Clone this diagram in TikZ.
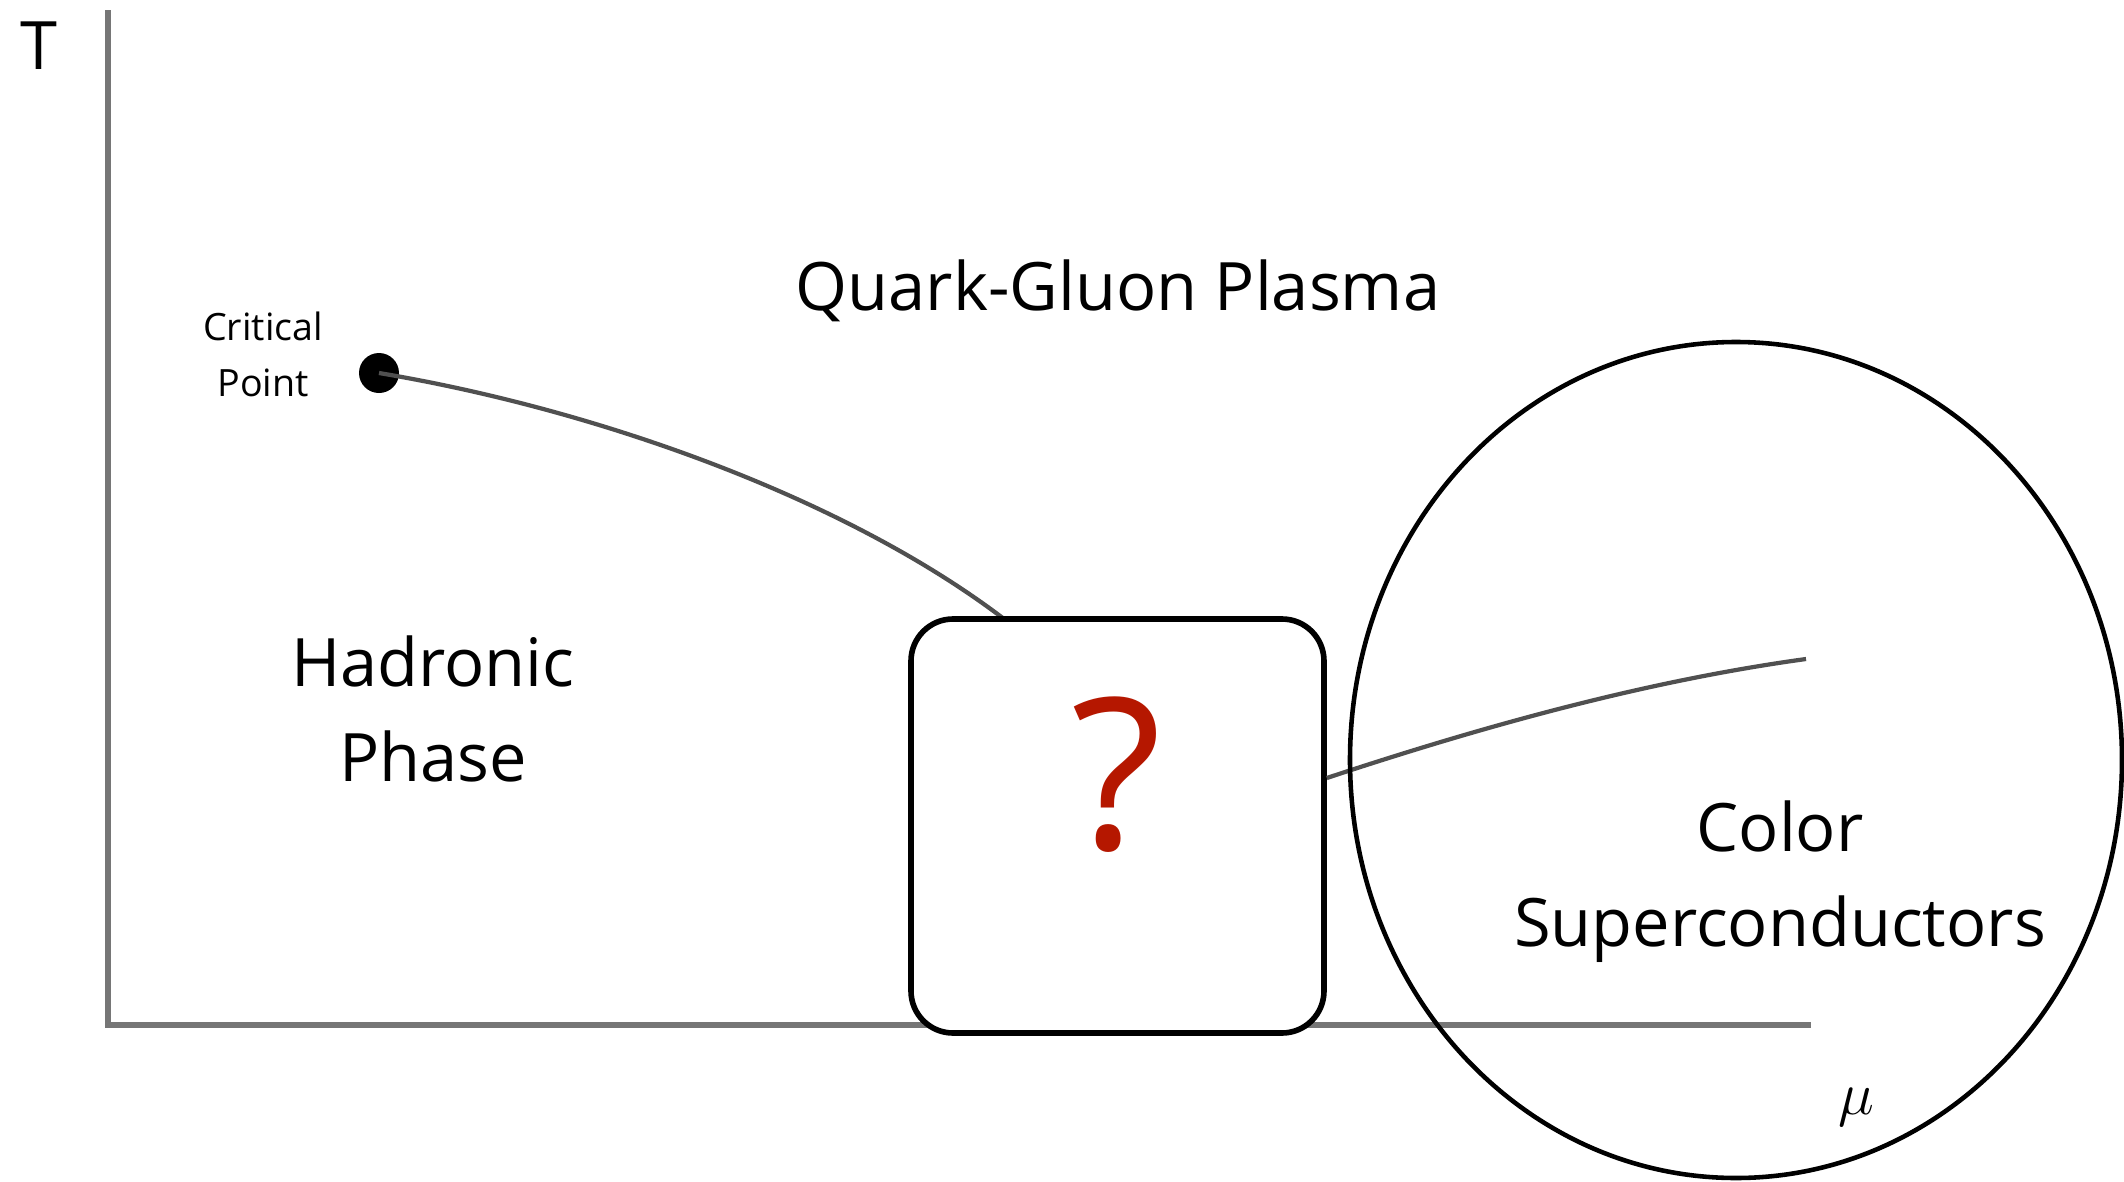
\documentclass[tikz,border=0pt]{standalone}
\usepackage{fontspec}
\setmainfont{Open Sans}
\usetikzlibrary{positioning,calc}
\definecolor{axiscol}{RGB}{118,118,118}
\definecolor{linecol}{RGB}{80,80,80}
\definecolor{qcol}{RGB}{181,23,0}

\begin{document}
\begin{tikzpicture}[
    x=0.1mm, y=-0.1mm,
    lbl/.style={font=\fontsize{19}{27}\selectfont, align=center, inner sep=0pt},
    small/.style={font=\fontsize{10.7}{15.9}\selectfont, align=center, inner sep=0pt},
    qbox/.style={rectangle, rounded corners=4.2mm, minimum width=41.3mm, minimum height=41.4mm, draw, line width=1.6pt, fill=white},
    axis/.style={draw=axiscol, line width=1.8pt},
    phase/.style={draw=linecol, line width=1.2pt},
]
\useasboundingbox (0,0) rectangle (2124,1182);

% axes
\coordinate (ttop) at (108,10);
\coordinate (o) at (108,1025);
\coordinate (muend) at (1811,1025);
\draw[axis] (ttop) -- (o) -- (muend);
\node[lbl] (tlab) at (39,46) {T};
\node[lbl] (mulab) at (1856,1107) {$\mu$};

% critical point and first boundary
\node[circle, fill=black, inner sep=0pt, minimum size=4mm] (cp) at (379,373) {};
\node[small] (cplab) at (263,354) {Critical\\Point};
\coordinate (b1) at (1008,622);
\draw[phase] (cp.center) .. controls (600,410) and (850,500) .. (b1);

% unknown region
\node[qbox] (unk) at (1117.5,826) {};
\node[font=\fontsize{60}{62}\selectfont, text=qcol, inner sep=0pt] (qmark) at (1117,775) {?};

% second boundary
\coordinate (b2) at (1806,659);
\draw[phase] ($(unk.east)+(0,-48)$) .. controls (1484,726) and (1646,681) .. (b2);

% phases
\node[lbl] (qgp) at (1118,291) {Quark-Gluon Plasma};
\node[lbl] (had) at (433,709) {Hadronic\\Phase};
\node[lbl] (csc) at (1780,882) {Color\\Superconductors};
\draw[line width=1.3pt] (1736,760) ellipse [x radius=386, y radius=418];
\end{tikzpicture}
\end{document}
